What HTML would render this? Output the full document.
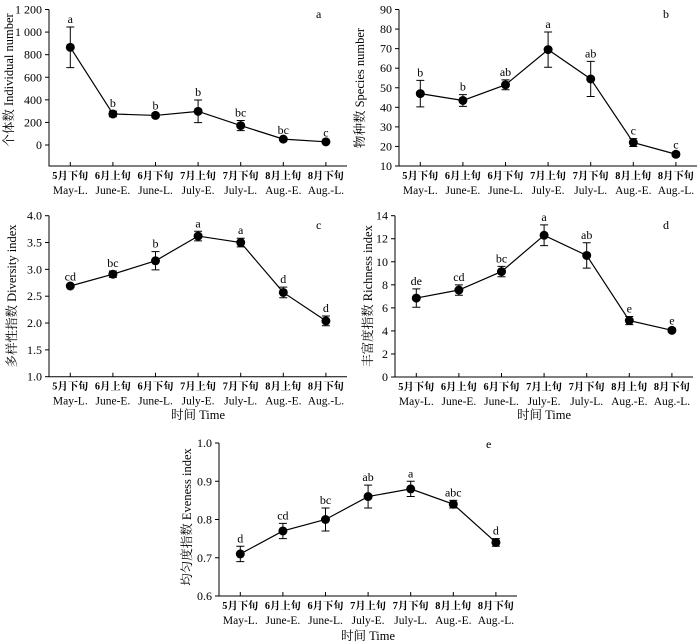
<!DOCTYPE html>
<html><head><meta charset="utf-8">
<style>
body{margin:0;background:#fff;}
svg{display:block;font-family:"Liberation Serif","Noto Serif CJK SC",serif;}
</style></head>
<body>
<svg id="fig" width="700" height="644" viewBox="0 0 700 644" xmlns="http://www.w3.org/2000/svg"></svg>
<script>
const categoriesCN = ["5月下旬","6月上旬","6月下旬","7月上旬","7月下旬","8月上旬","8月下旬"];
const categoriesEN = ["May-L.","June-E.","June-L.","July-E.","July-L.","Aug.-E.","Aug.-L."];
const individualValues = [865,275,262,298,172,52,28];
const individualErrors = [180,25,18,100,45,8,10];
const individualLetters = ["a","b","b","b","bc","bc","c"];
const speciesValues = [47,43.5,51.5,69.5,54.5,22,16];
const speciesErrors = [6.8,3,2.5,9,9,2,1];
const speciesLetters = ["b","b","ab","a","ab","c","c"];
const diversityValues = [2.69,2.91,3.16,3.62,3.50,2.57,2.04];
const diversityErrors = [0.03,0.06,0.17,0.09,0.08,0.1,0.09];
const diversityLetters = ["cd","bc","b","a","a","d","d"];
const richnessValues = [6.85,7.55,9.15,12.3,10.55,4.9,4.05];
const richnessErrors = [0.8,0.45,0.45,0.9,1.1,0.35,0.15];
const richnessLetters = ["de","cd","bc","a","ab","e","e"];
const evenessValues = [0.71,0.77,0.80,0.86,0.88,0.84,0.74];
const evenessErrors = [0.02,0.02,0.03,0.03,0.02,0.01,0.01];
const evenessLetters = ["d","cd","bc","ab","a","abc","d"];
const ticksA = [0,200,400,600,800,1000,1200];
const tickLabelsA = ["0","200","400","600","800","1 000","1 200"];
const ticksB = [10,20,30,40,50,60,70,80,90];
const ticksC = [1.0,1.5,2.0,2.5,3.0,3.5,4.0];
const ticksD = [0,2,4,6,8,10,12,14];
const ticksE = [0.6,0.7,0.8,0.9,1.0];

const svg = document.getElementById('fig');
const NS = "http://www.w3.org/2000/svg";
function mk(tag, attrs, parent){const e=document.createElementNS(NS,tag);for(const k in attrs)e.setAttribute(k,attrs[k]);(parent||svg).appendChild(e);return e;}
function txt(s, attrs, parent){const e=mk('text',attrs,parent);e.textContent=s;return e;}

function panel(p){
  const g = mk('g',{});
  
  
  const W = 298;
  const yScale = v => p.y0 + (v - p.v0)/(p.v1 - p.v0)*(p.y1 - p.y0);
  const xScale = i => p.ax + 21.3 + i*42.6;
  const axB = p.axisBottom;
  const axes = mk('path',{d:`M${p.ax},${p.y1top} V${axB} H${p.ax+W}`,stroke:'#000','stroke-width':1,fill:'none'},g);
  
  
  p.ticks.forEach((t,i)=>{
    const y = yScale(t);
    mk('line',{x1:p.ax-4,x2:p.ax,y1:y,y2:y,stroke:'#000'},g);
    const lab = txt(p.tickLabels ? p.tickLabels[i] : (p.dec ? t.toFixed(p.dec) : String(t)),{x:p.ax-7,y:y+4,'text-anchor':'end','font-size':12},g);
    
    
  });
  categoriesCN.forEach((c,i)=>{
    const x = xScale(i);
    mk('line',{x1:x,x2:x,y1:axB,y2:axB-4,stroke:'#000'},g);
    const l1 = txt(c,{x:x-18,y:axB+13,'font-size':10.5,textLength:36,lengthAdjust:'spacingAndGlyphs','font-weight':'bold'},g);
    
    
    const l2 = txt(categoriesEN[i],{x:x,y:axB+28,'text-anchor':'middle','font-size':11.5},g);
    
    
  });
  let d='';
  p.vals.forEach((v,i)=>{d+=(i?'L':'M')+xScale(i)+','+yScale(v);});
  const line = mk('path',{d:d,stroke:'#000','stroke-width':1.2,fill:'none'},g);
  
  
  p.vals.forEach((v,i)=>{
    const x=xScale(i), yt=yScale(v+p.errs[i]), yb=yScale(v-p.errs[i]);
    const eb = mk('path',{d:`M${x},${yt}V${yb}M${x-4},${yt}H${x+4}M${x-4},${yb}H${x+4}`,stroke:'#000','stroke-width':1,fill:'none'},g);
    
    
    const pt = mk('circle',{cx:x,cy:yScale(v),r:4.5,fill:'#000'},g);
    
    
    const lt = txt(p.letters[i],{x:x,y:yt-4,'text-anchor':'middle','font-size':12},g);
    
    
  });
  const pl = txt(p.panelLabel,{x:p.plx,y:p.ply,'font-size':12},g);
  
  
  const yt = txt(p.ytitle,{x:0,y:0,'text-anchor':'middle','font-size':12.5,transform:`translate(${p.ytx},${p.yty}) rotate(-90)`},g);
  
  
  if(p.xt){
    const xt = txt('时间 Time',{x:p.ax+W/2,y:p.xt,'text-anchor':'middle','font-size':12.5},g);
    
    
  }
}

panel({name:'panel-a-individual',ax:49,y0:145,y1:9.5,v0:0,v1:1200,y1top:9.5,axisBottom:166,ticks:ticksA,tickLabels:tickLabelsA,
  vals:individualValues,errs:individualErrors,letters:individualLetters,panelLabel:'a',plx:316,ply:18,
  ytitle:'个体数 Individual number',ytx:13,yty:80});
panel({name:'panel-b-species',ax:399,y0:166,y1:9.5,v0:10,v1:90,y1top:9.5,axisBottom:166,ticks:ticksB,
  vals:speciesValues,errs:speciesErrors,letters:speciesLetters,panelLabel:'b',plx:663,ply:18,
  ytitle:'物种数 Species number',ytx:364,yty:88});
panel({name:'panel-c-diversity',ax:49,y0:376.7,y1:215.7,v0:1,v1:4,y1top:215.7,axisBottom:376.7,ticks:ticksC,dec:1,
  vals:diversityValues,errs:diversityErrors,letters:diversityLetters,panelLabel:'c',plx:316,ply:229,
  ytitle:'多样性指数 Diversity index',ytx:16,yty:296,xt:419});
panel({name:'panel-d-richness',ax:395,y0:377,y1:215.7,v0:0,v1:14,y1top:215.7,axisBottom:377,ticks:ticksD,
  vals:richnessValues,errs:richnessErrors,letters:richnessLetters,panelLabel:'d',plx:663,ply:229,
  ytitle:'丰富度指数 Richness index',ytx:372,yty:296,xt:419});
panel({name:'panel-e-eveness',ax:219,y0:596,y1:443,v0:0.6,v1:1.0,y1top:443,axisBottom:596,ticks:ticksE,dec:1,
  vals:evenessValues,errs:evenessErrors,letters:evenessLetters,panelLabel:'e',plx:486,ply:448,
  ytitle:'均匀度指数 Eveness index',ytx:191,yty:517,xt:640});
</script>
</body></html>
